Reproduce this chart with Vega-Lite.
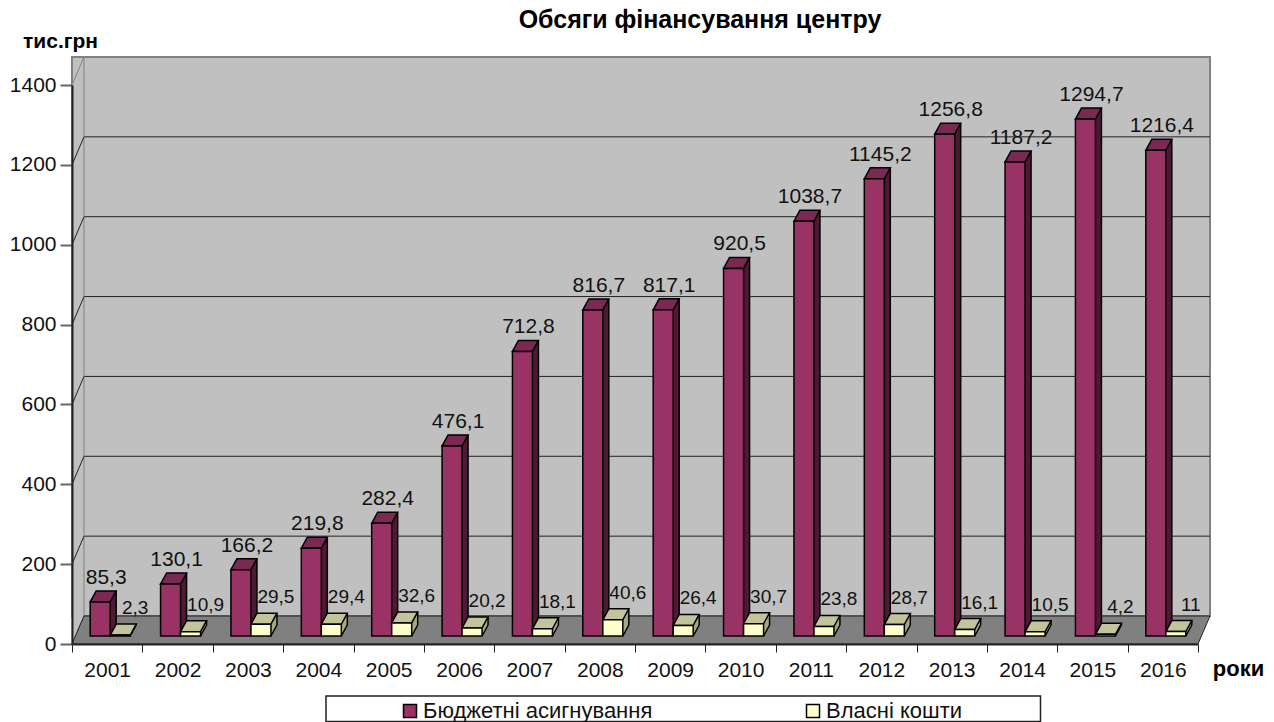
{"$schema":"https://vega.github.io/schema/vega-lite/v6.json","width":1126,"height":559,"autosize":"none","padding":{"left":72,"top":85,"right":76,"bottom":78},"background":"white",
"title":{"text":"Обсяги фінансування центру","font":"Liberation Sans","fontSize":25,"fontWeight":"bold","color":"#000","anchor":"middle","dx":65,"offset":-3},
"config":{"view":{"stroke":null},"font":"Liberation Sans"},
"data":{"values":[
{"year":"2001","series":"Бюджетні асигнування","value":85.3,"label":"85,3"},{"year":"2002","series":"Бюджетні асигнування","value":130.1,"label":"130,1"},{"year":"2003","series":"Бюджетні асигнування","value":166.2,"label":"166,2"},{"year":"2004","series":"Бюджетні асигнування","value":219.8,"label":"219,8"},{"year":"2005","series":"Бюджетні асигнування","value":282.4,"label":"282,4"},{"year":"2006","series":"Бюджетні асигнування","value":476.1,"label":"476,1"},{"year":"2007","series":"Бюджетні асигнування","value":712.8,"label":"712,8"},{"year":"2008","series":"Бюджетні асигнування","value":816.7,"label":"816,7"},{"year":"2009","series":"Бюджетні асигнування","value":817.1,"label":"817,1"},{"year":"2010","series":"Бюджетні асигнування","value":920.5,"label":"920,5"},{"year":"2011","series":"Бюджетні асигнування","value":1038.7,"label":"1038,7"},{"year":"2012","series":"Бюджетні асигнування","value":1145.2,"label":"1145,2"},{"year":"2013","series":"Бюджетні асигнування","value":1256.8,"label":"1256,8"},{"year":"2014","series":"Бюджетні асигнування","value":1187.2,"label":"1187,2"},{"year":"2015","series":"Бюджетні асигнування","value":1294.7,"label":"1294,7"},{"year":"2016","series":"Бюджетні асигнування","value":1216.4,"label":"1216,4"},
{"year":"2001","series":"Власні кошти","value":2.3,"label":"2,3"},{"year":"2002","series":"Власні кошти","value":10.9,"label":"10,9"},{"year":"2003","series":"Власні кошти","value":29.5,"label":"29,5"},{"year":"2004","series":"Власні кошти","value":29.4,"label":"29,4"},{"year":"2005","series":"Власні кошти","value":32.6,"label":"32,6"},{"year":"2006","series":"Власні кошти","value":20.2,"label":"20,2"},{"year":"2007","series":"Власні кошти","value":18.1,"label":"18,1"},{"year":"2008","series":"Власні кошти","value":40.6,"label":"40,6"},{"year":"2009","series":"Власні кошти","value":26.4,"label":"26,4"},{"year":"2010","series":"Власні кошти","value":30.7,"label":"30,7"},{"year":"2011","series":"Власні кошти","value":23.8,"label":"23,8"},{"year":"2012","series":"Власні кошти","value":28.7,"label":"28,7"},{"year":"2013","series":"Власні кошти","value":16.1,"label":"16,1"},{"year":"2014","series":"Власні кошти","value":10.5,"label":"10,5"},{"year":"2015","series":"Власні кошти","value":4.2,"label":"4,2"},{"year":"2016","series":"Власні кошти","value":11,"label":"11"}]},
"layer":[
{"mark":{"type":"rect","fill":"#c0c0c0","stroke":"#808080","strokeWidth":2,"xOffset":12,"x2Offset":12,"yOffset":-28,"y2Offset":-28},"encoding":{"y":{"datum":0,"type":"quantitative","scale":{"domain":[0,1400],"nice":false},"axis":{"values":[0,200,400,600,800,1000,1200,1400],"format":"d","title":"тис.грн","titleAngle":0,"titleX":-12,"titleY":-44,"titleAlign":"center","titleBaseline":"middle","titleFont":"Liberation Sans","titleFontSize":21,"titleFontWeight":"bold","titleColor":"#000","grid":false,"domainColor":"#222","domainWidth":2,"tickColor":"#666","tickWidth":2,"tickSize":12,"labelFont":"Liberation Sans","labelFontSize":21,"labelColor":"#111","labelPadding":4,"zindex":1}},"y2":{"datum":1400}}},
{"data":{"values":[{"g":200},{"g":400},{"g":600},{"g":800},{"g":1000},{"g":1200}]},"mark":{"type":"rule","stroke":"#222","strokeWidth":1,"xOffset":12,"x2Offset":12,"yOffset":-28,"y2Offset":-28},"encoding":{"y":{"field":"g","type":"quantitative"}}},
{"encoding":{"x":{"field":"year","type":"nominal","scale":{"paddingInner":0,"paddingOuter":0},"axis":{"labelAngle":0,"tickBand":"extent","title":"роки","titleX":1166,"titleY":24,"titleAlign":"center","titleBaseline":"middle","titleFont":"Liberation Sans","titleFontSize":22,"titleFontWeight":"bold","titleColor":"#000","grid":false,"domainColor":"#222","domainWidth":2,"tickColor":"#222","tickWidth":1,"tickSize":8,"labelFont":"Liberation Sans","labelFontSize":21,"labelColor":"#111","labelPadding":7,"labelBaseline":"top","zindex":1}},"y":{"field":"value","type":"quantitative"}},
"layer":[
{"transform":[{"filter":"datum.year==='2001' && datum.series==='Власні кошти'"}],"mark":{"type":"point","shape":"M-35.2 0L-23.2 -28L-23.2 -587L-35.2 -559Z","size":4,"filled":true,"fill":"#c0c0c0","stroke":"#808080","strokeWidth":1,"opacity":1},"encoding":{"y":{"datum":0}}},
{"transform":[{"filter":"datum.year==='2001' && datum.series==='Власні кошти'"}],"mark":{"type":"point","shape":"M-35.2 0L-23.2 -28L1102.8 -28L1090.8 0Z","size":4,"filled":true,"fill":"#808080","stroke":"#222","strokeWidth":1,"opacity":1},"encoding":{"y":{"datum":0}}},
{"data":{"values":[{"year":"2001","g":200},{"year":"2001","g":400},{"year":"2001","g":600},{"year":"2001","g":800},{"year":"2001","g":1000},{"year":"2001","g":1200}]},"mark":{"type":"point","shape":"M-35.2 0L-23.2 -28","size":4,"filled":false,"fill":null,"stroke":"#222","strokeWidth":1,"opacity":1},"encoding":{"y":{"field":"g","type":"quantitative"}}},
{"transform":[{"filter":"datum.year==='2001' && datum.series==='Власні кошти'"}],"mark":{"type":"point","shape":"M218.8 52L933.3 52L933.3 77.5L218.8 77.5Z","size":4,"filled":false,"stroke":"#222","strokeWidth":1.5,"opacity":1},"encoding":{"y":{"datum":0}}},

{"transform":[{"filter":"datum.series==='Бюджетні асигнування'"}],"layer":[
{"mark":{"type":"bar","width":20,"xOffset":-1,"yOffset":-19,"y2Offset":-19,"fill":"#4d1933"}},
{"mark":{"type":"point","shape":"M3 -8L9 -19L3 -19Z","size":4,"filled":true,"fill":"#4d1933","strokeWidth":0,"opacity":1},"encoding":{"y":{"datum":0}}},
{"mark":{"type":"point","shape":"M3 -8L9 -19","size":4,"filled":false,"stroke":"#000","strokeWidth":1.5,"opacity":1},"encoding":{"y":{"datum":0}}},
{"mark":{"type":"rule","xOffset":9,"x2Offset":9,"yOffset":-19,"y2Offset":-19,"stroke":"#000","strokeWidth":1.5},"encoding":{"y2":{"datum":0}}},
{"mark":{"type":"point","shape":"M-17 -8L-11 -19L9 -19L3 -8Z","size":4,"filled":true,"fill":"#7a2952","stroke":"#000","strokeWidth":1.5,"opacity":1}},
{"mark":{"type":"bar","width":20,"xOffset":-7,"yOffset":-8,"y2Offset":-8,"stroke":"#000","strokeWidth":1.5},"encoding":{"color":{"field":"series","type":"nominal","scale":{"domain":["Бюджетні асигнування","Власні кошти"],"range":["#993366","#ffffcc"]},"legend":{"title":null,"orient":"none","legendX":327,"legendY":615,"direction":"horizontal","columns":2,"columnPadding":149,"symbolType":"square","symbolSize":169,"symbolStrokeColor":"#000","symbolStrokeWidth":1.5,"labelFont":"Liberation Sans","labelFontSize":22,"labelColor":"#111","labelOffset":2,"labelLimit":400,"padding":0}}}}
]},
{"transform":[{"filter":"datum.series==='Власні кошти'"}],"layer":[
{"mark":{"type":"bar","width":20,"xOffset":19,"yOffset":-19,"y2Offset":-19,"fill":"#a8a886"}},
{"mark":{"type":"point","shape":"M23 -8L29 -19L23 -19Z","size":4,"filled":true,"fill":"#a8a886","strokeWidth":0,"opacity":1},"encoding":{"y":{"datum":0}}},
{"mark":{"type":"point","shape":"M23 -8L29 -19","size":4,"filled":false,"stroke":"#000","strokeWidth":1.5,"opacity":1},"encoding":{"y":{"datum":0}}},
{"mark":{"type":"rule","xOffset":29,"x2Offset":29,"yOffset":-19,"y2Offset":-19,"stroke":"#000","strokeWidth":1.5},"encoding":{"y2":{"datum":0}}},
{"mark":{"type":"point","shape":"M3 -8L9 -19L29 -19L23 -8Z","size":4,"filled":true,"fill":"#c4c49c","stroke":"#000","strokeWidth":1.5,"opacity":1}},
{"mark":{"type":"bar","width":20,"xOffset":13,"yOffset":-8,"y2Offset":-8,"stroke":"#000","strokeWidth":1.5},"encoding":{"color":{"field":"series","type":"nominal"}}}
]},
{"transform":[{"filter":"datum.series==='Бюджетні асигнування'"}],"mark":{"type":"text","dx":-1,"dy":-26,"baseline":"alphabetic","align":"center","font":"Liberation Sans","fontSize":21,"fill":"#111"},"encoding":{"text":{"field":"label"}}},
{"transform":[{"filter":"datum.series==='Власні кошти'"}],"mark":{"type":"text","dx":28,"dy":-29,"baseline":"alphabetic","align":"center","font":"Liberation Sans","fontSize":19,"fill":"#111"},"encoding":{"text":{"field":"label"}}}
]}
]}
